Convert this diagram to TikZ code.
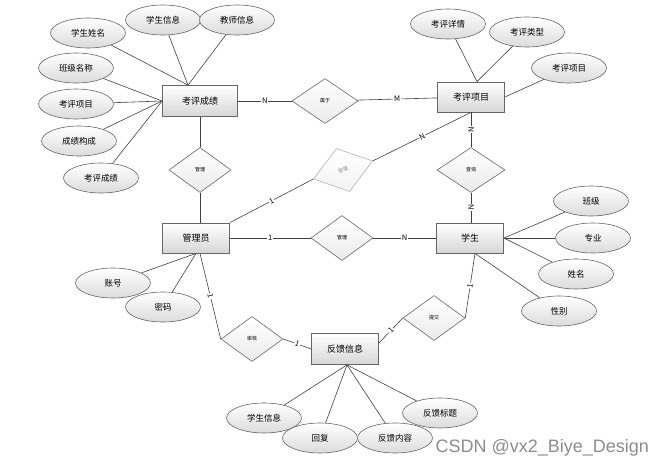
\documentclass[tikz,border=0pt]{standalone}
\usepackage{fontspec}
\setmainfont{Noto Sans CJK SC}
\setsansfont{Liberation Sans}
\usetikzlibrary{shapes.geometric}
\begin{document}
\begin{tikzpicture}[
    x=1pt,y=-1pt,
    every node/.style={font=\fontsize{8.5}{9}\selectfont},
    entity/.style={draw=black!60,line width=.8pt,top color=white,bottom color=black!16,
        minimum width=67pt,minimum height=30pt,inner sep=1pt,font=\fontsize{9}{10}\selectfont},
    attr/.style={ellipse,draw=black!60,line width=.6pt,top color=white,bottom color=black!14,
        minimum width=75pt,minimum height=30pt,inner sep=0pt},
    rel/.style={diamond,draw=black!60,line width=.6pt,top color=white,bottom color=black!8,
        minimum width=62pt,minimum height=45pt,inner sep=0pt,font=\fontsize{5}{6}\selectfont},
    link/.style={draw=black!75,line width=.6pt},
    card/.style={midway,sloped,fill=white,inner sep=.8pt,font=\fontsize{7.5}{8}\selectfont}]
    \useasboundingbox (0,0) rectangle (665,466);

    \node[entity,minimum width=75pt,minimum height=31pt] (kpcj) at (200,101) {考评成绩};
    \node[entity] (kpxm) at (471,97) {考评项目};
    \node[entity] (gly) at (196,238) {管理员};
    \node[entity] (xs) at (470,238) {学生};
    \node[entity,minimum height=31pt] (fk) at (345,349) {反馈信息};

    \node[rel,minimum width=66pt] (sy) at (325,101) {属于};
    \node[rel] (gla) at (200,170) {管理};
    \node[rel,minimum width=68pt] (cx) at (471,170) {查询};
    \node[rel] (glb) at (342,238) {管理};
    \node[rel] (sh) at (252,339) {审核};
    \node[rel] (tj) at (434,318) {提交};
    \node[rel,rotate=17,draw=black!30,text=black!45,bottom color=black!5] (fb) at (343,170) {管理};

    \foreach \nm/\xy/\txt in {
        xsxm/{(88,33)}/学生姓名, xsxx/{(163,20)}/学生信息, jsxx/{(237,20)}/教师信息,
        bjmc/{(76,68)}/班级名称, kpxma/{(76,104)}/考评项目, cjgc/{(79,141)}/成绩构成,
        kpcja/{(101,178)}/考评成绩,
        kpxq/{(448,24)}/考评详情, kplx/{(527,32)}/考评类型, kpxmb/{(569,68)}/考评项目,
        bj/{(591,201)}/班级, zy/{(593,238)}/专业, xm/{(576,274)}/姓名, xb/{(559,311)}/性别,
        zh/{(113,283)}/账号, mm/{(163,307)}/密码,
        xsxxb/{(264,418)}/学生信息, hf/{(320,438)}/回复, fknr/{(395,438)}/反馈内容,
        fkbt/{(440,413)}/反馈标题}
        \node[attr] (\nm) at \xy {\txt};

    \foreach \nm in {xsxm,xsxx,jsxx}
        \draw[link] (\nm) -- ([xshift=-12pt]kpcj.north);
    \foreach \nm in {bjmc,kpxma,cjgc,kpcja}
        \draw[link] (\nm) -- (kpcj.west);
    \foreach \nm in {kpxq,kplx}
        \draw[link] (\nm) -- ([xshift=6pt]kpxm.north);
    \draw[link] (kpxmb) -- (kpxm.east);
    \foreach \nm in {bj,zy,xm}
        \draw[link] (\nm) -- (xs.east);
    \draw[link] (xb) -- ([xshift=5pt]xs.south);
    \foreach \nm in {zh,mm}
        \draw[link] (\nm) -- (gly.south);
    \foreach \nm in {xsxxb,hf,fknr,fkbt}
        \draw[link] (\nm) -- ([xshift=2pt]fk.south);

    \draw[link] (kpcj) -- node[card] {N} (sy);
    \draw[link] (sy) -- node[card] {M} (kpxm);
    \draw[link] (gla) -- (gla |- kpcj.south);
    \draw[link] (gla) -- (gla |- gly.north);
    \draw[link] (gly.north east) -- node[card] {1} (fb.west);
    \draw[link] (fb.east) -- node[card] {N} (kpxm.south);
    \draw[link] (cx) -- node[card] {N} (cx |- kpxm.south);
    \draw[link] (cx) -- node[card] {N} (cx |- xs.north);
    \draw[link] (gly) -- node[card] {1} (glb);
    \draw[link] (glb) -- node[card] {N} (xs);
    \draw[link] ([xshift=4pt]gly.south) -- node[card] {1} (sh.west);
    \draw[link] (sh.east) -- node[card] {1} (fk.west);
    \draw[link] ([xshift=5pt]xs.south) -- node[card] {1} (tj.east);
    \draw[link] (tj.west) -- node[card] {1} ([yshift=6pt]fk.east);

    \node[anchor=base west,text=black!45,font=\sffamily\fontsize{18}{18}\selectfont]
        (wm) at (432,452) {CSDN @vx2\_Biye\_Design};
\end{tikzpicture}
\end{document}
